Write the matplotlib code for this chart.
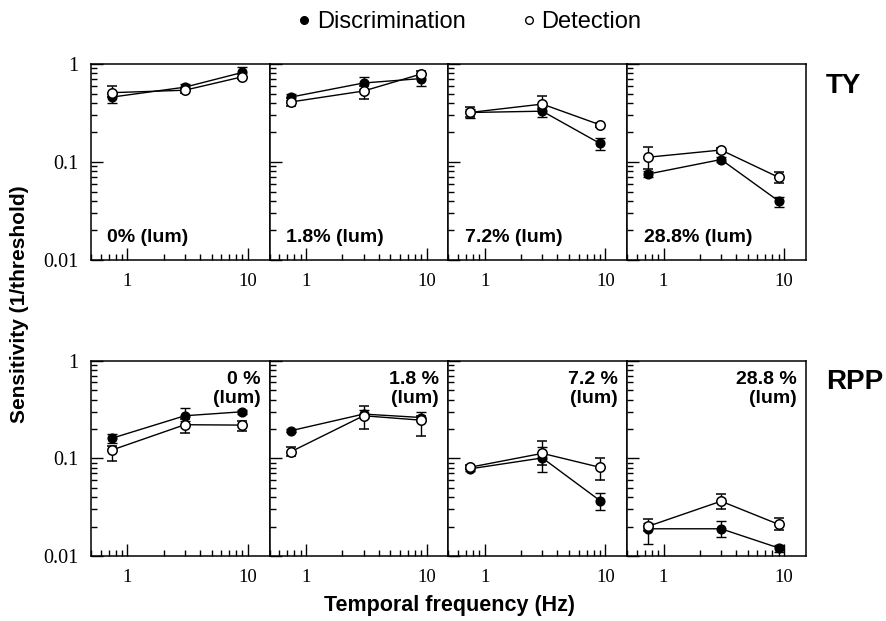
import matplotlib
matplotlib.use("Agg")
import matplotlib.pyplot as plt
from matplotlib.lines import Line2D
from matplotlib.ticker import LogLocator, NullFormatter, FixedLocator

# ---------------- data ----------------
freqs = [0.75, 3.0, 9.0]
conditions_top = ["0% (lum)", "1.8% (lum)", "7.2% (lum)", "28.8% (lum)"]
conditions_bot = ["0 %\n(lum)", "1.8 %\n(lum)", "7.2 %\n(lum)", "28.8 %\n(lum)"]
subjects = ["TY", "RPP"]

# TY  (rows = 0%, 1.8%, 7.2%, 28.8%)
ty_disc = [[0.46, 0.58, 0.82], [0.46, 0.64, 0.71], [0.32, 0.33, 0.155], [0.0755, 0.106, 0.040]]
ty_disc_lo = [[0.40, 0.54, 0.74], [0.43, 0.56, 0.60], [0.28, 0.286, 0.132], [0.071, 0.100, 0.0348]]
ty_disc_hi = [[0.50, 0.62, 0.94], [0.50, 0.74, 0.80], [0.35, 0.36, 0.177], [0.080, 0.112, 0.0442]]
ty_det = [[0.51, 0.54, 0.74], [0.41, 0.53, 0.79], [0.32, 0.39, 0.24], [0.112, 0.1325, 0.0698]]
ty_det_lo = [[0.46, 0.51, 0.70], [0.37, 0.44, 0.74], [0.29, 0.35, 0.23], [0.085, 0.125, 0.0607]]
ty_det_hi = [[0.60, 0.57, 0.79], [0.45, 0.60, 0.84], [0.36, 0.475, 0.25], [0.141, 0.140, 0.0797]]

# RPP
rpp_disc = [[0.161, 0.273, 0.30], [0.192, 0.284, 0.262], [0.078, 0.101, 0.037], [0.019, 0.019, 0.0121]]
rpp_disc_lo = [[0.145, 0.24, 0.285], [0.185, 0.26, 0.24], [0.075, 0.072, 0.0297], [0.0132, 0.0156, 0.011]]
rpp_disc_hi = [[0.177, 0.324, 0.315], [0.200, 0.31, 0.296], [0.081, 0.13, 0.0444], [0.022, 0.0226, 0.0131]]
rpp_det = [[0.122, 0.221, 0.219], [0.117, 0.273, 0.246], [0.081, 0.1125, 0.081], [0.0202, 0.0364, 0.0211]]
rpp_det_lo = [[0.095, 0.18, 0.19], [0.105, 0.20, 0.171], [0.077, 0.085, 0.0607], [0.018, 0.0302, 0.0185]]
rpp_det_hi = [[0.135, 0.25, 0.24], [0.130, 0.345, 0.27], [0.085, 0.152, 0.102], [0.0241, 0.0427, 0.0243]]

x_ticks = [1, 10]
x_tick_labels = ["1", "10"]
y_ticks = [0.01, 0.1, 1]
y_tick_labels = ["0.01", "0.1", "1"]

# ---------------- style ----------------
SANS = ["Liberation Sans", "DejaVu Sans"]
SERIF = ["Liberation Serif", "DejaVu Serif"]

fig = plt.figure(figsize=(8.86, 6.21), dpi=100)
W, H = 886.0, 621.0
left_px = 91.0
right_px = 806.0
pw = (right_px - left_px) / 4.0
rows_px = [(64.0, 260.0), (360.7, 556.0)]

data = {
    "TY": (ty_disc, ty_disc_lo, ty_disc_hi, ty_det, ty_det_lo, ty_det_hi),
    "RPP": (rpp_disc, rpp_disc_lo, rpp_disc_hi, rpp_det, rpp_det_lo, rpp_det_hi),
}

for r, subj in enumerate(subjects):
    top, bot = rows_px[r]
    disc, dlo, dhi, det, tlo, thi = data[subj]
    for c in range(4):
        x0 = left_px + c * pw
        ax = fig.add_axes([x0 / W, 1 - bot / H, pw / W, (bot - top) / H])
        ax.set_xscale("log")
        ax.set_yscale("log")
        ax.set_xlim(0.5, 15.2)
        ax.set_ylim(0.01, 1)

        # discrimination
        yerr_d = [[disc[c][i] - dlo[c][i] for i in range(3)],
                  [dhi[c][i] - disc[c][i] for i in range(3)]]
        ax.errorbar(freqs, disc[c], yerr=yerr_d, fmt="-o", color="black",
                    mfc="black", mec="black", ms=6.3, lw=1.0, elinewidth=1.0,
                    capsize=3.4, capthick=1.0, zorder=3)
        # detection
        yerr_t = [[det[c][i] - tlo[c][i] for i in range(3)],
                  [thi[c][i] - det[c][i] for i in range(3)]]
        ax.errorbar(freqs, det[c], yerr=yerr_t, fmt="-o", color="black",
                    mfc="white", mec="black", mew=1.1, ms=6.8, lw=1.0,
                    elinewidth=1.0, capsize=3.4, capthick=1.0, zorder=4)

        ax.xaxis.set_major_locator(FixedLocator(x_ticks))
        ax.set_xticklabels(x_tick_labels, fontfamily=SERIF, fontsize=13.5)
        ax.xaxis.set_minor_locator(LogLocator(base=10, subs=[2, 3, 4, 5, 6, 7, 8, 9]))
        ax.xaxis.set_minor_formatter(NullFormatter())
        ax.yaxis.set_major_locator(FixedLocator(y_ticks))
        ax.yaxis.set_minor_locator(LogLocator(base=10, subs=[2, 3, 4, 5, 6, 7, 8, 9]))
        ax.yaxis.set_minor_formatter(NullFormatter())
        if c == 0:
            ax.set_yticklabels(y_tick_labels, fontfamily=SERIF, fontsize=14.5)
        else:
            ax.set_yticklabels([])

        ax.tick_params(which="both", direction="in", top=False, right=False,
                       width=1.0, pad=9)
        ax.tick_params(which="major", length=8.5)
        ax.tick_params(which="minor", length=4.5)
        for sp in ax.spines.values():
            sp.set_linewidth(1.1)

        if r == 0:
            ax.text(0.092, 0.09, conditions_top[c], transform=ax.transAxes,
                    ha="left", va="baseline", fontsize=14, fontweight="bold",
                    fontfamily=SANS)
        else:
            ax.text(0.948, 0.945, conditions_bot[c], transform=ax.transAxes,
                    ha="right", va="top", fontsize=14, fontweight="bold",
                    fontfamily=SANS, multialignment="right", linespacing=1.1)

    fig.text(826 / W, 1 - (86 if r == 0 else 382) / H, subj, ha="left",
             va="center", fontsize=20, fontweight="bold", fontfamily=SANS)

fig.text(20 / W, 1 - 304 / H, "Sensitivity (1/threshold)", rotation=90,
         ha="center", va="center", fontsize=15, fontweight="bold",
         fontfamily=SANS)
fig.text(449 / W, 1 - 605 / H, "Temporal frequency (Hz)", ha="center",
         va="center", fontsize=15.5, fontweight="bold", fontfamily=SANS)

handles = [
    Line2D([], [], marker="o", ls="none", color="black", mfc="black", ms=5.5),
    Line2D([], [], marker="o", ls="none", color="black", mfc="white", mew=1.0, ms=5.5),
]
leg = fig.legend(handles, ["Discrimination", "Detection"], loc="center",
                 bbox_to_anchor=(470 / W, 1 - 22 / H), ncol=2, frameon=False,
                 handlelength=0.5, handletextpad=0.3, columnspacing=2.4,
                 prop={"family": SANS, "size": 17})

fig.savefig("out.png", dpi=100)
